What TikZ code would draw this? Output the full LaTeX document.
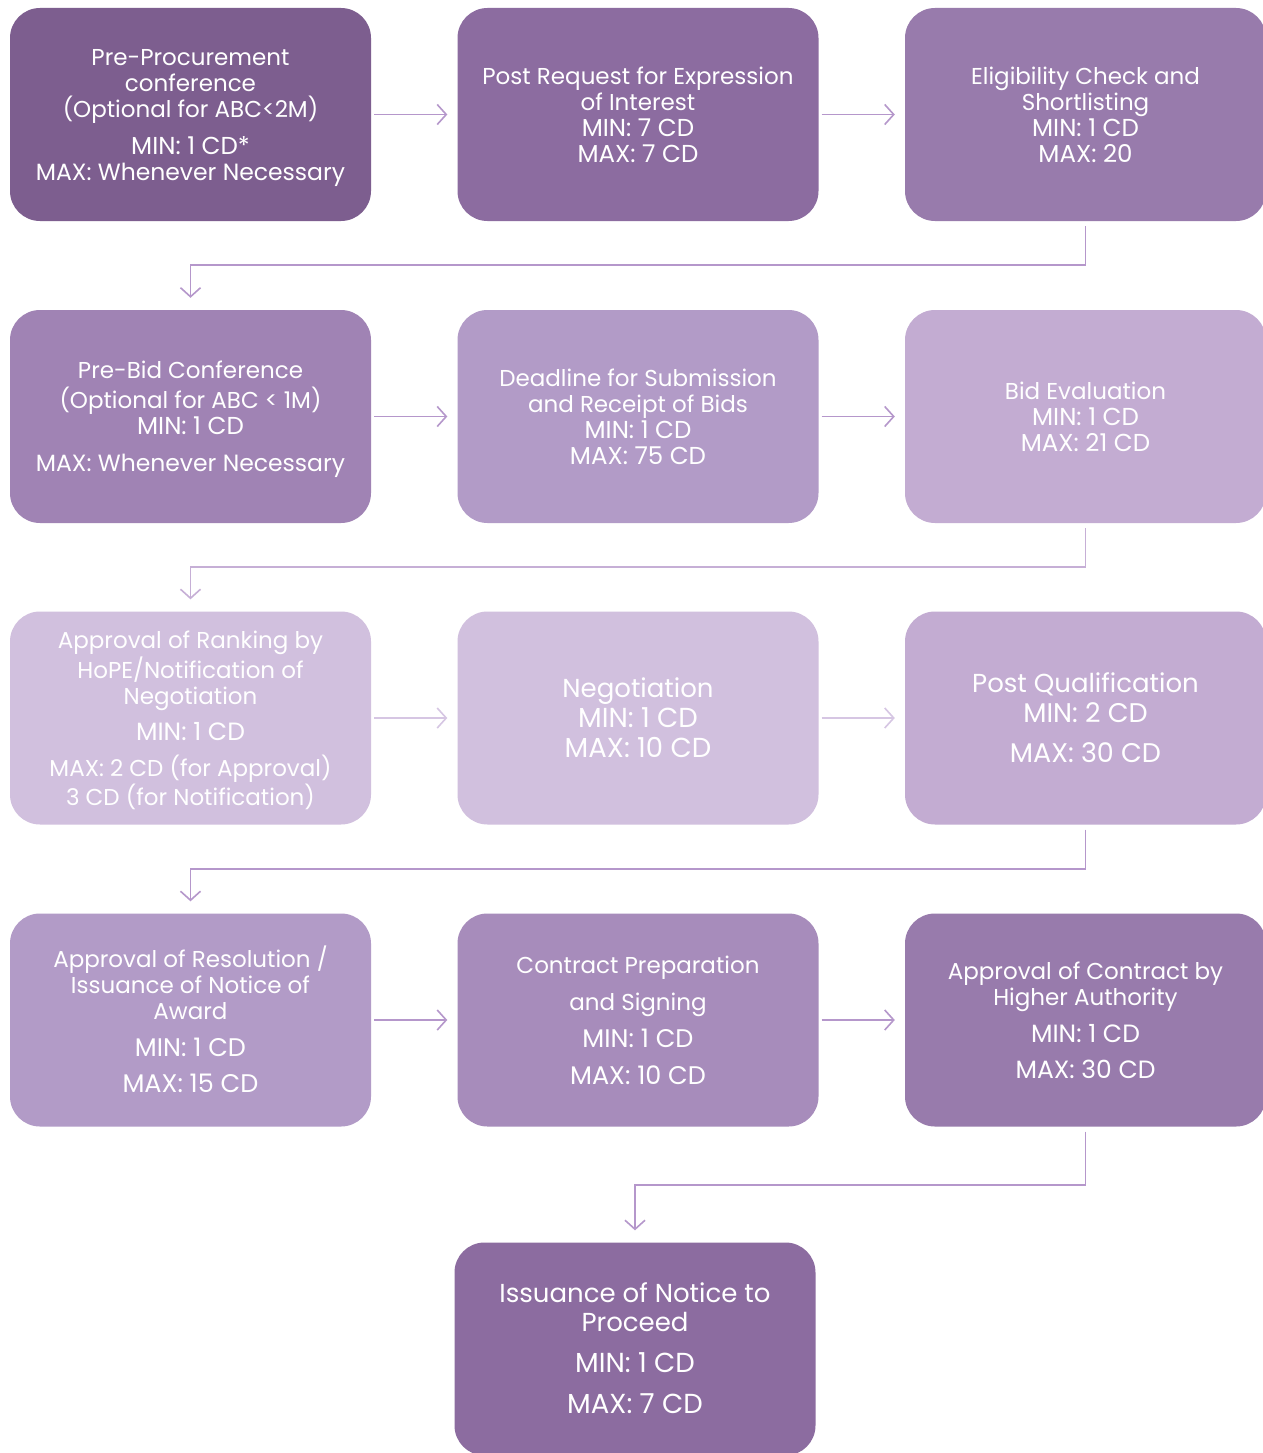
\documentclass[tikz,border=0pt]{standalone}
\usepackage{fontspec}
\setmainfont{Poppins}
\usetikzlibrary{arrows.meta,calc}
\definecolor{cA}{HTML}{7D5E8F}
\definecolor{cB}{HTML}{8C6CA0}
\definecolor{cC}{HTML}{987BAC}
\definecolor{cD}{HTML}{A083B4}
\definecolor{cE}{HTML}{B29BC7}
\definecolor{cF}{HTML}{C3ACD2}
\definecolor{cG}{HTML}{D1C0DE}
\definecolor{cH}{HTML}{A78CBB}
\definecolor{lnA}{HTML}{B597CB}
\definecolor{lnB}{HTML}{D6C6E3}
\definecolor{lnC}{HTML}{C6AFD6}
\newcommand\mx[2][24.5]{{\fontsize{#1}{26}\selectfont #2}}
\tikzset{
  stepbox/.style={draw=none, rounded corners=30pt, minimum width=361pt, minimum height=213pt, inner sep=0pt},
  steptxt/.style={text=white, align=center, inner sep=0pt, font=\fontsize{23}{26}\selectfont},
  bigtxt/.style={font=\fontsize{26}{30}\selectfont},
  arr/.style={draw=lnA, line width=1.6pt, -{Straight Barb[length=9pt,width=20pt,line width=1.6pt]}},
}
% #1 text options, #2 name, #3 fill, #4 position, #5 text
\newcommand\stp[5][]{%
  \node[stepbox, fill=#3] (#2) at #4 {};
  \node[steptxt, #1] (#2t) at ($#4+(0,3.5)$) {\strut#5\strut};}
\begin{document}
\begin{tikzpicture}[x=1pt,y=-1pt]
\useasboundingbox[fill=white] (0,0) rectangle (1263,1453);
% row 1
\stp{b1}{cA}{(190.5,114.5)}{Pre-Procurement\\conference\\(Optional for ABC<2M)\\[11pt]\mx{MIN: 1 CD*}\\\mx[23.5]{MAX: Whenever Necessary}}
\stp{b2}{cB}{(638,114.5)}{Post Request for Expression\\of Interest\\\mx{MIN: 7 CD}\\\mx{MAX: 7 CD}}
\stp{b3}{cC}{(1085.5,114.5)}{Eligibility Check and\\Shortlisting\\\mx{MIN: 1 CD}\\\mx{MAX: 20}}
% row 2
\stp{b4}{cD}{(190.5,416.5)}{Pre-Bid Conference\\(Optional for ABC < 1M)\\\mx{MIN: 1 CD}\\[11pt]\mx[23.5]{MAX: Whenever Necessary}}
\stp{b5}{cE}{(638,416.5)}{Deadline for Submission\\and Receipt of Bids\\\mx{MIN: 1 CD}\\\mx{MAX: 75 CD}}
\stp{b6}{cF}{(1085.5,416.5)}{Bid Evaluation\\\mx{MIN: 1 CD}\\\mx{MAX: 21 CD}}
% row 3
\stp{b7}{cG}{(190.5,718)}{Approval of Ranking by\\HoPE/Notification of\\Negotiation\\[10pt]\mx[25]{MIN: 1 CD}\\[10pt]MAX: 2 CD (for Approval)\\3 CD (for Notification)}
\stp[bigtxt]{b8}{cG}{(638,718)}{Negotiation\\\mx[27.5]{MIN: 1 CD}\\\mx[27.5]{MAX: 10 CD}}
\stp[bigtxt]{b9}{cF}{(1085.5,718)}{Post Qualification\\\mx[27]{MIN: 2 CD}\\[10pt]\mx[27]{MAX: 30 CD}}
% row 4
\stp{b10}{cE}{(190.5,1020)}{Approval of Resolution /\\Issuance of Notice of\\Award\\[11pt]\mx[25.5]{MIN: 1 CD}\\[10pt]\mx[25.5]{MAX: 15 CD}}
\stp{b11}{cH}{(638,1020)}{Contract Preparation\\[11pt]and Signing\\[11pt]\mx[25.5]{MIN: 1 CD}\\[11pt]\mx[25.5]{MAX: 10 CD}}
\stp{b12}{cC}{(1085.5,1020)}{Approval of Contract by\\Higher Authority\\[11pt]\mx[25]{MIN: 1 CD}\\[10pt]\mx[25]{MAX: 30 CD}}
% row 5
\stp[font=\fontsize{26}{29}\selectfont]{b13}{cB}{(635,1349)}{Issuance of Notice to\\Proceed\\[12pt]\mx[27.5]{MIN: 1 CD}\\[12pt]\mx[27.5]{MAX: 7 CD}}
% horizontal arrows
\draw[arr] ($(b1.east)+(3,0)$) -- ($(b2.west)+(-10,0)$);
\draw[arr] ($(b2.east)+(3,0)$) -- ($(b3.west)+(-10,0)$);
\draw[arr] ($(b4.east)+(3,0)$) -- ($(b5.west)+(-10,0)$);
\draw[arr] ($(b5.east)+(3,0)$) -- ($(b6.west)+(-10,0)$);
\draw[arr, draw=lnB] ($(b7.east)+(3,0)$) -- ($(b8.west)+(-10,0)$);
\draw[arr, draw=lnB] ($(b8.east)+(3,0)$) -- ($(b9.west)+(-10,0)$);
\draw[arr] ($(b10.east)+(3,0)$) -- ($(b11.west)+(-10,0)$);
\draw[arr] ($(b11.east)+(3,0)$) -- ($(b12.west)+(-10,0)$);
% elbow connectors
\draw[arr] ($(b3.south)+(0,5)$) -- ++(0,39) -| ($(b4.north)+(0,-12)$);
\draw[arr, draw=lnC] ($(b6.south)+(0,5)$) -- ++(0,39) -| ($(b7.north)+(0,-12)$);
\draw[arr] ($(b9.south)+(0,5)$) -- ++(0,39) -| ($(b10.north)+(0,-12)$);
\draw[arr] ($(b12.south)+(0,5)$) -- ++(0,53) -| ($(b13.north)+(0,-12)$);
\end{tikzpicture}
\end{document}
